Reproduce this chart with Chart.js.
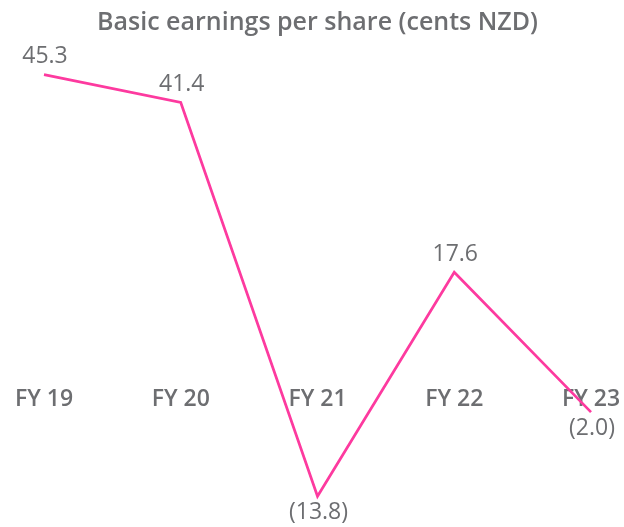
<!DOCTYPE html>
<html>
<head>
<meta charset="utf-8">
<script src="https://cdn.jsdelivr.net/npm/chart.js@4"></script>
<style>
html,body{margin:0;padding:0;background:#fff;}
#wrap{width:624px;height:527px;}
</style>
</head>
<body>
<div id="wrap"><canvas id="c" width="624" height="527"></canvas></div>
<script>
const categories = ['FY 19', 'FY 20', 'FY 21', 'FY 22', 'FY 23'];
const eps = [45.3, 41.4, -13.8, 17.6, -2.0];
const chartTitle = 'Basic earnings per share (cents NZD)';

const GREY = '#6d6e71';
const PINK = '#fd3a9f';
const FONT = '"Open Sans", Lato, sans-serif';

function fmt(v) {
  return v < 0 ? '(' + Math.abs(v).toFixed(1) + ')' : v.toFixed(1);
}

const valueLabels = {
  id: 'valueLabels',
  afterDatasetsDraw(chart) {
    const ctx = chart.ctx;
    const meta = chart.getDatasetMeta(0);
    ctx.save();
    ctx.font = '23px ' + FONT;
    ctx.fillStyle = GREY;
    ctx.textAlign = 'center';
    ctx.textBaseline = 'middle';
    meta.data.forEach((pt, i) => {
      const v = chart.data.datasets[0].data[i];
      const off = v < 0 ? 16 : -18;
      ctx.fillText(fmt(v), pt.x + 1, pt.y + off);
    });
    ctx.restore();
  }
};

new Chart(document.getElementById('c'), {
  type: 'line',
  data: {
    labels: categories,
    datasets: [{
      data: eps,
      borderColor: PINK,
      borderWidth: 2.7,
      pointRadius: 0,
      tension: 0,
      fill: false
    }]
  },
  options: {
    responsive: false,
    animation: false,
    devicePixelRatio: 1,
    layout: { padding: { left: 44, right: 33, top: 0, bottom: 15 } },
    plugins: {
      legend: { display: false },
      tooltip: { enabled: false },
      title: {
        display: true,
        text: chartTitle,
        color: GREY,
        font: { family: FONT, size: 25, weight: '600', lineHeight: 1.2 },
        padding: { top: 8, bottom: 17.4 }
      }
    },
    scales: {
      x: {
        position: { y: 0 },
        offset: false,
        grid: { display: false, drawTicks: false },
        border: { display: false },
        ticks: {
          color: GREY,
          padding: -12,
          maxRotation: 0,
          autoSkip: false,
          font: { family: FONT, size: 23, weight: '600', lineHeight: 1.2 }
        }
      },
      y: {
        display: false,
        min: -16,
        max: 48
      }
    }
  },
  plugins: [valueLabels]
});
</script>
</body>
</html>
